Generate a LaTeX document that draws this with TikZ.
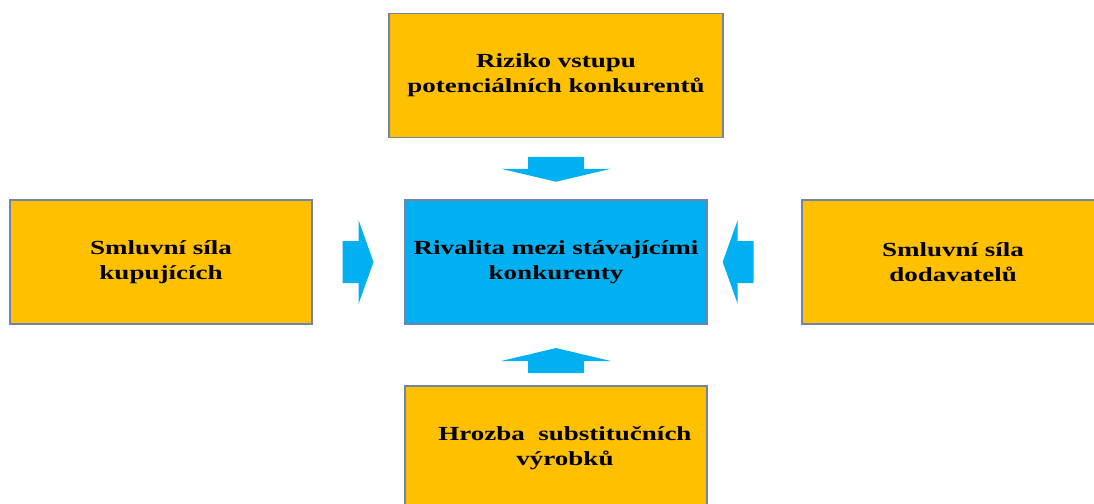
\documentclass[tikz,border=0pt]{standalone}
\usepackage{fontspec}
\usepackage{xcolor}
\usepackage{tikz}
\usetikzlibrary{calc}
\newfontfamily\forcefont{Liberation Serif}[FakeStretch=1.35]
\definecolor{forceOrange}{HTML}{FFC000}
\definecolor{forceBlue}{HTML}{00B0F0}
\definecolor{edgeColor}{HTML}{6F84A8}

\begin{document}
\begin{tikzpicture}[x=1pt,y=-1pt,
  force/.style={fill=forceOrange,draw=edgeColor,line width=1.5pt,minimum width=302pt,minimum height=124pt,
    align=center,font=\forcefont\bfseries\fontsize{20}{25}\selectfont},
  rival/.style={force,fill=forceBlue},
  push/.style={fill=forceBlue}]
\useasboundingbox (0,0) rectangle (1094,503);
\clip (0,0) rectangle (1094,503);
\node[force,minimum width=334pt] (entry) at (556,75.5) {Riziko vstupu\\potenciálních konkurentů};
\node[rival] (rivalry) at (556,262) {Rivalita mezi stávajícími\\konkurenty};
\node[force] (buyers) at (161,262) {Smluvní síla\\kupujících};
\node[force] (suppliers) at (953,262) {Smluvní síla\\dodavatelů};
\node[force] (substitutes) at (556,448) {\hspace*{18pt}Hrozba\ \ substitučních\\\hspace*{18pt}výrobků};
% block arrows pointing at the rivalry box
\coordinate (pTop) at ($(entry.south)!0.5!(rivalry.north)$);
\coordinate (pBottom) at ($(substitutes.north)!0.4!(rivalry.south)$);
\coordinate (pLeft) at ($(buyers.east)!0.5!(rivalry.west)$);
\coordinate (pRight) at ($(rivalry.east)!0.32!(suppliers.west)$);
\path[push] (pTop) ++(-28,-12) -- ++(56,0) -- ++(0,12) -- ++(27,0) -- ++(-55,13) -- ++(-55,-13) -- ++(27,0) -- cycle;
\path[push] (pBottom) ++(-28,12) -- ++(56,0) -- ++(0,-12) -- ++(27,0) -- ++(-55,-13) -- ++(-55,13) -- ++(27,0) -- cycle;
\path[push] (pLeft) ++(-16,-21) -- ++(0,42) -- ++(16,0) -- ++(0,21) -- ++(15,-42) -- ++(-15,-42) -- ++(0,21) -- cycle;
\path[push] (pRight) ++(16,-21) -- ++(0,42) -- ++(-16,0) -- ++(0,21) -- ++(-15,-42) -- ++(15,-42) -- ++(0,21) -- cycle;
\end{tikzpicture}
\end{document}
